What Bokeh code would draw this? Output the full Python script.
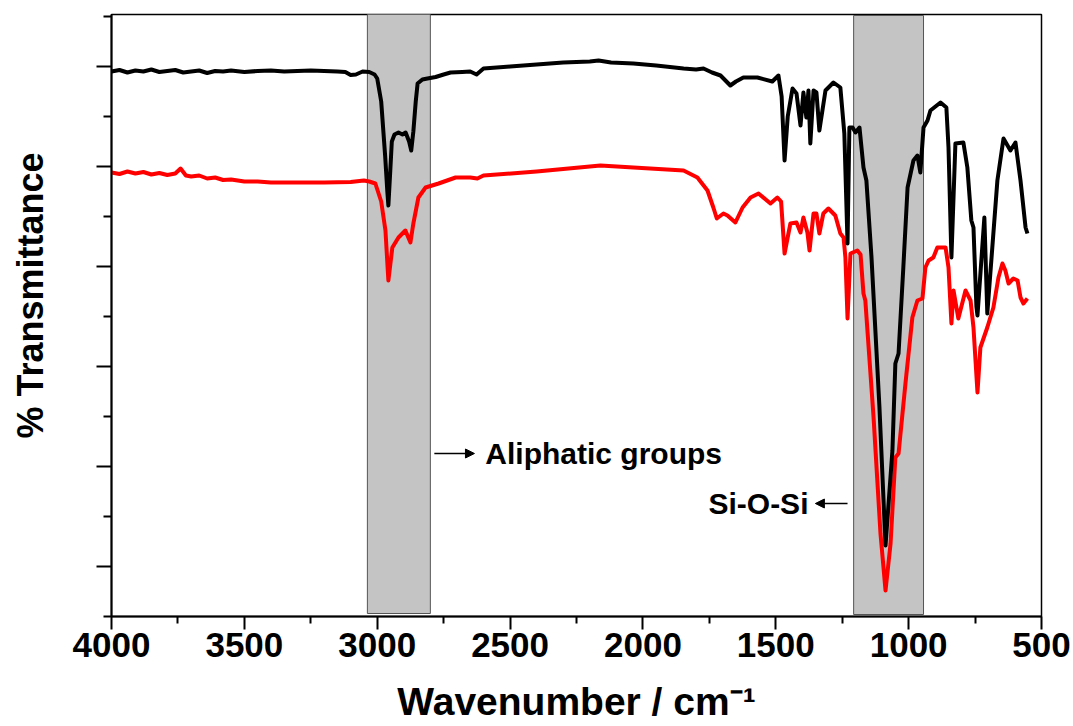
from bokeh.plotting import figure
from bokeh.models import Range1d, FixedTicker, Arrow, NormalHead, Label
from bokeh.embed import file_html
from bokeh.resources import INLINE

# ---- data ----
wn_black = [4000, 3970, 3940, 3910, 3880, 3850, 3820, 3790, 3760, 3730,
            3700, 3670, 3640, 3610, 3580, 3550, 3500, 3450, 3400, 3350,
            3300, 3250, 3200, 3150, 3120, 3100, 3080, 3055, 3030, 3010,
            3000, 2985, 2970, 2962, 2958, 2952, 2945, 2935, 2920, 2905,
            2893, 2880, 2872, 2864, 2855, 2848, 2830, 2811, 2780, 2750,
            2724, 2680, 2650, 2626, 2600, 2500, 2400, 2300, 2200, 2167,
            2120, 2036, 1950, 1847, 1800, 1772, 1740, 1708, 1671, 1650,
            1622, 1569, 1513, 1490, 1478, 1467, 1455, 1437, 1422, 1407,
            1396, 1385, 1377, 1370, 1358, 1347, 1336, 1313, 1283, 1257,
            1242, 1230, 1223, 1211, 1200, 1185, 1170, 1159, 1140, 1110,
            1087, 1061, 1050, 1038, 1020, 1004, 982, 967, 956, 944,
            929, 918, 880, 858, 850, 839, 824, 794, 779, 764,
            756, 745, 741, 715, 704, 666, 643, 617, 598, 579,
            560, 553]
t_black = [109.0, 109.3, 108.8, 109.2, 109.0, 109.4, 108.9, 109.1, 109.3, 108.8,
           109.0, 109.2, 108.7, 109.1, 109.0, 109.2, 108.9, 109.1, 109.2, 109.0,
           109.1, 109.2, 109.1, 109.0, 108.9, 108.3, 108.4, 109.0, 108.9, 108.4,
           107.6, 103.0, 92.0, 85.0, 82.2, 88.0, 95.0, 96.4, 96.8, 96.4,
           96.8, 95.0, 93.2, 97.0, 103.0, 106.6, 107.4, 107.6, 107.9, 108.4,
           108.8, 108.9, 109.0, 108.4, 109.6, 110.0, 110.4, 110.8, 111.0, 111.2,
           110.8, 110.6, 110.2, 109.6, 109.4, 109.6, 108.8, 108.2, 106.2, 107.0,
           107.8, 107.8, 107.0, 108.2, 104.0, 91.2, 100.0, 105.6, 104.6, 98.2,
           104.8, 99.8, 105.2, 94.6, 105.2, 104.8, 97.2, 105.2, 106.8, 105.8,
           96.6, 74.6, 97.8, 97.8, 96.8, 97.8, 89.8, 87.2, 72.0, 42.0,
           14.2, 33.2, 50.6, 52.6, 69.8, 85.8, 91.2, 92.2, 88.8, 97.8,
           99.2, 101.2, 102.8, 101.8, 93.8, 71.8, 94.6, 94.8, 89.8, 79.2,
           77.8, 62.0, 60.2, 79.8, 60.6, 87.2, 95.6, 93.2, 94.8, 87.2,
           77.8, 76.6]

wn_red = [4000, 3970, 3940, 3910, 3880, 3850, 3820, 3790, 3760, 3740,
          3720, 3700, 3670, 3640, 3610, 3580, 3550, 3500, 3450, 3400,
          3300, 3200, 3100, 3050, 3030, 3007, 2985, 2969, 2958, 2943,
          2920, 2894, 2875, 2864, 2845, 2818, 2769, 2705, 2650, 2623,
          2600, 2400, 2160, 2036, 1847, 1795, 1757, 1735, 1722, 1697,
          1682, 1652, 1625, 1595, 1565, 1520, 1494, 1480, 1467, 1445,
          1422, 1407, 1396, 1381, 1373, 1358, 1347, 1336, 1321, 1302,
          1276, 1257, 1245, 1238, 1230, 1219, 1193, 1181, 1170, 1163,
          1132, 1106, 1087, 1068, 1050, 1038, 1012, 986, 967, 948,
          937, 925, 907, 892, 861, 850, 839, 831, 813, 786,
          767, 756, 741, 730, 704, 681, 662, 647, 636, 624,
          606, 590, 579, 568, 553]
t_red = [88.8, 88.5, 89.0, 88.6, 88.9, 88.4, 88.7, 88.3, 88.6, 89.6,
         88.2, 88.0, 88.2, 87.6, 87.8, 87.3, 87.4, 87.0, 87.0, 86.8,
         86.8, 86.8, 86.9, 87.2, 87.0, 86.6, 83.0, 77.2, 67.2, 73.8,
         75.8, 77.2, 74.8, 78.6, 83.8, 85.8, 86.6, 87.8, 87.8, 87.6,
         88.2, 89.0, 90.2, 89.8, 89.2, 87.8, 85.2, 81.8, 79.6, 80.6,
         80.2, 78.8, 81.8, 83.8, 84.6, 82.6, 83.8, 83.0, 72.6, 78.6,
         78.8, 76.8, 79.8, 76.8, 73.2, 80.6, 80.6, 76.6, 80.6, 81.6,
         80.2, 76.6, 75.8, 71.8, 59.6, 72.6, 73.2, 72.4, 64.6, 63.2,
         39.8, 16.6, 5.2, 14.6, 31.8, 32.6, 46.6, 59.8, 63.2, 63.6,
         69.8, 71.2, 71.8, 73.8, 73.8, 69.8, 58.6, 65.2, 59.6, 65.2,
         63.2, 57.8, 44.8, 53.8, 57.8, 61.8, 67.8, 70.6, 69.2, 66.6,
         67.6, 67.2, 63.8, 62.6, 63.6]

band_left = [3037, 1207]
band_right = [2800, 944]
band_bottom = [0.6, 0.4]
band_top = [120.8, 120.2]
band_labels = ["Aliphatic groups", "Si-O-Si"]

x_ticks = [4000, 3500, 3000, 2500, 2000, 1500, 1000, 500]
x_minor = [3750, 3250, 2750, 2250, 1750, 1250, 750]
y_ticks = [10, 30, 50, 70, 90, 110]
y_minor = [0, 20, 40, 60, 80, 100, 120]
x_title = "Wavenumber / cm\u207b\u00b9"
y_title = "% Transmittance"

FONT = "Liberation Sans"

p = figure(width=1073, height=726, output_backend="svg", toolbar_location=None,
           x_range=Range1d(4000, 500), y_range=Range1d(0, 120.4),
           min_border_left=111, min_border_right=32, min_border_top=14,
           min_border_bottom=110)
p.background_fill_color = "white"
p.border_fill_color = "white"
p.outline_line_color = "black"
p.outline_line_width = 1.5
p.xgrid.visible = False
p.ygrid.visible = False

# shaded bands
p.quad(left=band_left, right=band_right, bottom=band_bottom, top=band_top,
       fill_color="#c4c4c4", line_color="#555555", line_width=1)

# spectra
p.line(wn_red, t_red, line_color="#ff0000", line_width=4, line_join="round")
p.line(wn_black, t_black, line_color="black", line_width=4, line_join="round")

# annotations
p.add_layout(Arrow(end=NormalHead(size=9, fill_color="black", line_color="black"),
                   x_start=2785, y_start=32.6, x_end=2634, y_end=32.6,
                   line_width=1.3, line_color="black"))
p.add_layout(Label(x=2593, y=32.6, text=band_labels[0], text_font=FONT,
                   text_font_size="30px", text_font_style="bold",
                   text_baseline="middle", text_align="left", text_color="black"))
p.add_layout(Arrow(end=NormalHead(size=9, fill_color="black", line_color="black"),
                   x_start=1230, y_start=22.6, x_end=1351, y_end=22.6,
                   line_width=1.3, line_color="black"))
p.add_layout(Label(x=1377, y=22.6, text=band_labels[1], text_font=FONT,
                   text_font_size="30px", text_font_style="bold",
                   text_baseline="middle", text_align="right", text_color="black"))

# x axis
xa = p.xaxis[0]
xa.ticker = FixedTicker(ticks=x_ticks, minor_ticks=x_minor)
xa.axis_label = x_title
xa.axis_label_text_font = FONT
xa.axis_label_text_font_size = "39px"
xa.axis_label_text_font_style = "bold"
xa.axis_label_text_color = "black"
xa.axis_label_standoff = 20
xa.major_label_text_font = FONT
xa.major_label_text_font_size = "35px"
xa.major_label_text_font_style = "bold"
xa.major_label_text_color = "black"
xa.major_label_standoff = 3
xa.major_tick_in = 0
xa.major_tick_out = 13
xa.minor_tick_in = 0
xa.minor_tick_out = 7
xa.axis_line_width = 2
xa.major_tick_line_width = 2
xa.minor_tick_line_width = 2
xa.axis_line_color = "black"

# y axis (no tick labels; title nudged toward the top with leading no-break spaces)
ya = p.yaxis[0]
ya.ticker = FixedTicker(ticks=y_ticks, minor_ticks=y_minor)
ya.major_label_overrides = {v: "" for v in y_ticks}
ya.major_label_text_font_size = "1px"
ya.major_label_standoff = 0
ya.axis_label = "\u00a0\u00a0\u00a0\u00a0" + y_title
ya.axis_label_text_font = FONT
ya.axis_label_text_font_size = "36px"
ya.axis_label_text_font_style = "bold"
ya.axis_label_text_color = "black"
ya.axis_label_standoff = 46
ya.major_tick_in = 0
ya.major_tick_out = 15
ya.minor_tick_in = 0
ya.minor_tick_out = 8
ya.axis_line_width = 2
ya.major_tick_line_width = 2
ya.minor_tick_line_width = 2
ya.axis_line_color = "black"

open("out.html", "w").write(file_html(p, INLINE))
